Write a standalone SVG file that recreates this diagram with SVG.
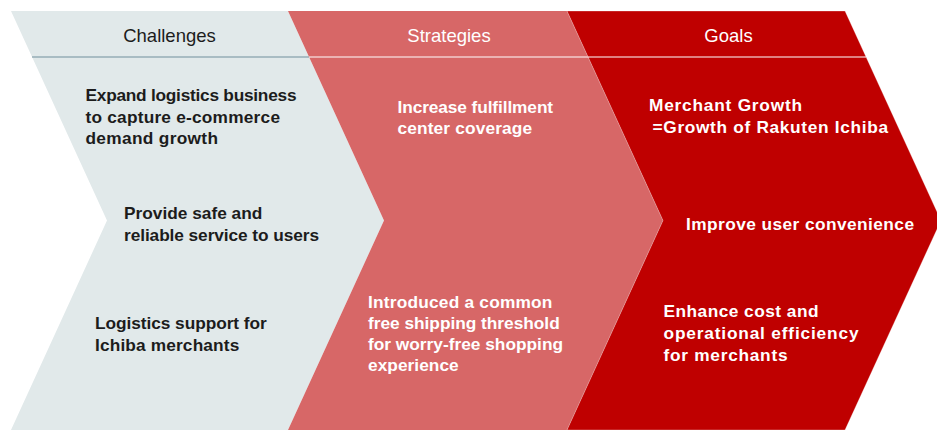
<svg xmlns="http://www.w3.org/2000/svg" width="937" height="430" viewBox="0 0 937 430">
  <style>
    .head { font-family: "Liberation Sans", Arial, sans-serif; font-size: 18.5px; text-anchor: middle; }
    .body { font-family: "Liberation Sans", Arial, sans-serif; font-size: 17.3px; font-weight: bold; }
    .dark { fill: #1c1c1c; }
    .light { fill: #ffffff; }
    .c1 { fill: #e1e9ea; }
    .c2 { fill: #d76767; }
    .c3 { fill: #bf0000; stroke: #ffffff; stroke-opacity: 0.5; stroke-width: 0.6; }
  </style>

  <!-- Challenges chevron -->
  <g id="challenges">
    <polygon class="c1" points="11,11 288,11 384,220.5 288,430 11,430 107,220.5"/>
    <line x1="32" y1="57" x2="309" y2="57" stroke="#71909b" stroke-width="1.2"/>
    <text class="head dark" x="169.5" y="41.7">Challenges</text>
    <text class="body dark">
      <tspan x="85.5" y="100.7" textLength="211">Expand logistics business</tspan>
      <tspan x="85.5" y="122.5" textLength="194.5">to capture e-commerce</tspan>
      <tspan x="85.5" y="144" textLength="132.5">demand growth</tspan>
    </text>
    <text class="body dark">
      <tspan x="124" y="219" textLength="138.3">Provide safe and</tspan>
      <tspan x="124" y="240.5" textLength="195">reliable service to users</tspan>
    </text>
    <text class="body dark">
      <tspan x="95" y="329" textLength="171.7">Logistics support for</tspan>
      <tspan x="95" y="350.5" textLength="144.3">Ichiba merchants</tspan>
    </text>
  </g>

  <!-- Strategies chevron -->
  <g id="strategies">
    <polygon class="c2" points="288,11 567,11 663,220.5 567,430 288,430 384,220.5"/>
    <line x1="309" y1="57" x2="588" y2="57" stroke="#ffffff" stroke-width="1.2"/>
    <text class="head light" x="449" y="41.7">Strategies</text>
    <text class="body light">
      <tspan x="397.5" y="112.5" textLength="155.6">Increase fulfillment</tspan>
      <tspan x="397.5" y="133.5" textLength="134.6">center coverage</tspan>
    </text>
    <text class="body light">
      <tspan x="368" y="308.3" textLength="184.4">Introduced a common</tspan>
      <tspan x="368" y="329" textLength="191.7">free shipping threshold</tspan>
      <tspan x="368" y="350" textLength="195">for worry-free shopping</tspan>
      <tspan x="368" y="370.5" textLength="90.7">experience</tspan>
    </text>
  </g>

  <!-- Goals chevron -->
  <g id="goals">
    <polygon class="c3" points="567,11 845,11 941,220.5 845,430 567,430 663,220.5"/>
    <line x1="588" y1="57" x2="866" y2="57" stroke="#ffffff" stroke-width="1.2"/>
    <text class="head light" x="728.5" y="41.7">Goals</text>
    <text class="body light">
      <tspan x="649" y="110.7" textLength="153">Merchant Growth</tspan>
      <tspan x="652.5" y="133.3" textLength="235.6">=Growth of Rakuten Ichiba</tspan>
    </text>
    <text class="body light" x="686" y="230" textLength="228">Improve user convenience</text>
    <text class="body light">
      <tspan x="663.5" y="316.7" textLength="155">Enhance cost and</tspan>
      <tspan x="663.5" y="339" textLength="195">operational efficiency</tspan>
      <tspan x="663.5" y="361" textLength="124">for merchants</tspan>
    </text>
  </g>

  <!-- no connectors: the chevrons abut directly -->
  <g id="connectors"/>
</svg>
